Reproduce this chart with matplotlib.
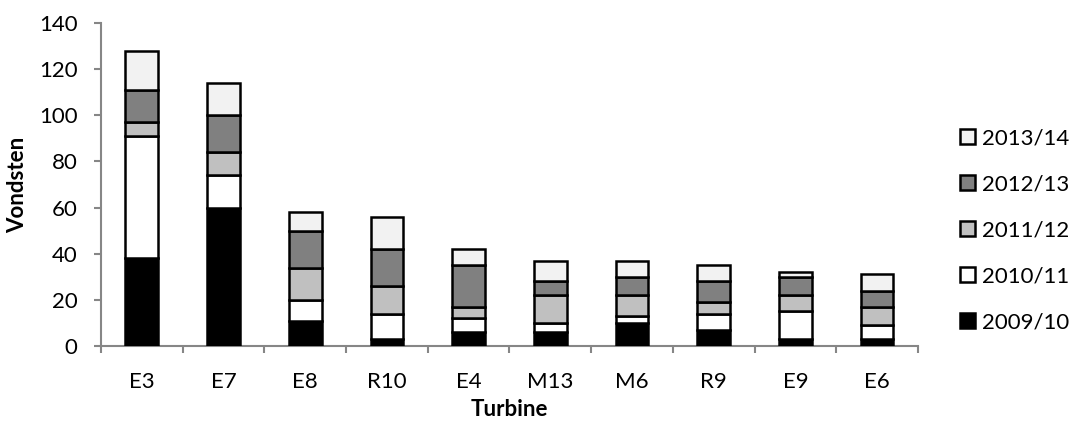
import matplotlib; matplotlib.use('agg')
import matplotlib.pyplot as plt
import numpy as np

# Vondsten per turbine og saeson
turbines = ['E3', 'E7', 'E8', 'R10', 'E4', 'M13', 'M6', 'R9', 'E9', 'E6']
seasons = ['2009/10', '2010/11', '2011/12', '2012/13', '2013/14']
s0910 = [38, 60, 11, 3, 6, 6, 10, 7, 3, 3]
s1011 = [53, 14, 9, 11, 6, 4, 3, 7, 12, 6]
s1112 = [6, 10, 14, 12, 5, 12, 9, 5, 7, 8]
s1213 = [14, 16, 16, 16, 18, 6, 8, 9, 8, 7]
s1314 = [17, 14, 8, 14, 7, 9, 7, 7, 2, 7]
farver = ['black', 'white', '#c0c0c0', '#808080', '#f2f2f2']

plt.rcParams['font.family'] = ['Lato', 'DejaVu Sans']
axgray = '#868686'
fs = 16

fig = plt.figure(figsize=(10.72, 4.28), dpi=100)
ax = fig.add_axes([0.0942, 0.1916, 0.7621, 0.7547])

x = np.arange(len(turbines))
bund = np.zeros(len(turbines))
for serie, farve, navn in zip([s0910, s1011, s1112, s1213, s1314], farver, seasons):
    ax.bar(x, serie, 0.4, bottom=bund, color=farve, edgecolor='black',
           linewidth=1.8, label=navn, zorder=3)
    bund = bund + np.array(serie)

ax.set_xlim(-0.5, len(turbines) - 0.5)
ax.set_ylim(0, 140)
ax.set_yticks(np.arange(0, 141, 20))

# Excel-stil: streger mellem kategorier, tekst i midten
ax.set_xticks(np.arange(-0.5, len(turbines), 1))
ax.set_xticklabels([])
ax.set_xticks(x, minor=True)
ax.set_xticklabels(turbines, minor=True)
ax.tick_params(axis='x', which='major', length=5, width=1.5, color=axgray)
ax.tick_params(axis='x', which='minor', length=0, pad=19, labelsize=fs)
ax.tick_params(axis='y', length=5, width=1.5, color=axgray, pad=12, labelsize=fs)

for s in ['top', 'right']:
    ax.spines[s].set_visible(False)
for s in ['left', 'bottom']:
    ax.spines[s].set_color(axgray)
    ax.spines[s].set_linewidth(1.5)

ax.set_ylabel('Vondsten', fontsize=fs, fontweight='bold', labelpad=8)
ax.set_xlabel('Turbine', fontsize=fs, fontweight='bold', labelpad=5)

h, l = ax.get_legend_handles_labels()
fig.legend(h[::-1], l[::-1], loc='center left', bbox_to_anchor=(0.8955, 0.4614),
           frameon=False, fontsize=fs, handlelength=0.68, handleheight=0.68,
           handletextpad=0.3, labelspacing=1.17, borderpad=0, borderaxespad=0)

plt.savefig('out.png', dpi=100)
